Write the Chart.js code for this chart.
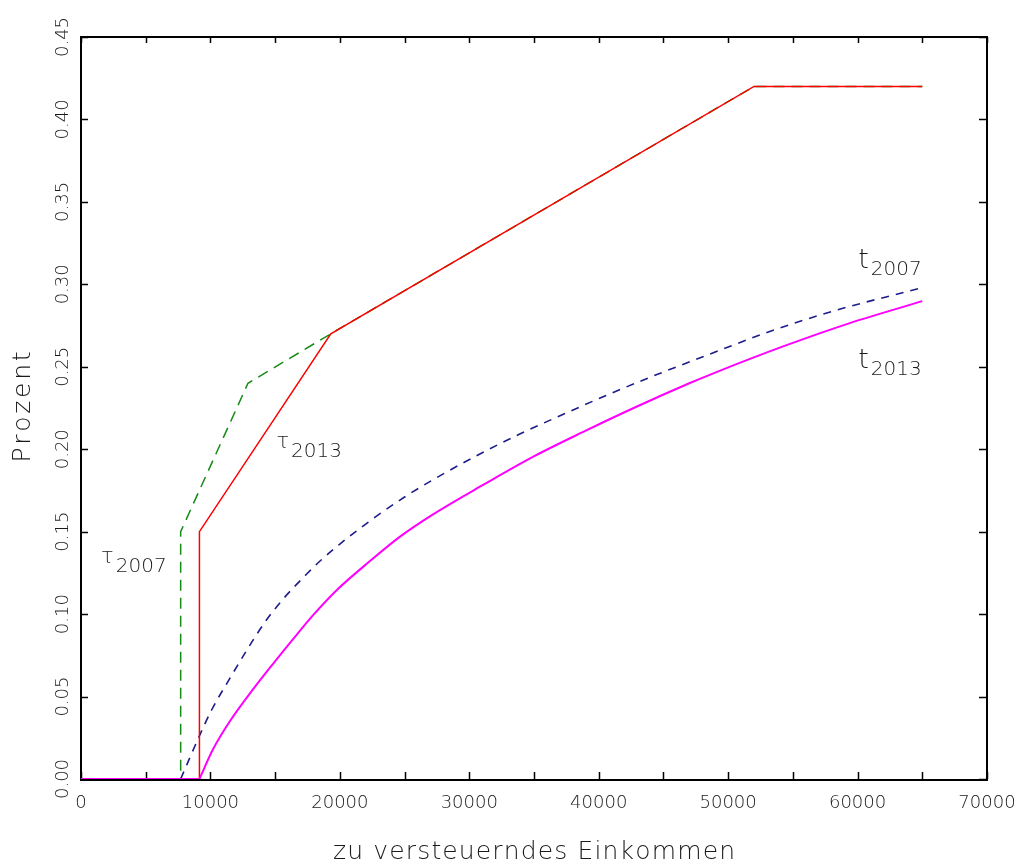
<!DOCTYPE html>
<html>
<head>
<meta charset="utf-8">
<script src="https://cdn.jsdelivr.net/npm/chart.js@4.4.0/dist/chart.umd.min.js"></script>
<style>
  html, body { margin: 0; padding: 0; background: #fff; }
  #wrap { width: 1017px; height: 862px; }
</style>
</head>
<body>
<div id="wrap"><canvas id="chart" width="1017" height="862"></canvas></div>
<script>
// Grenzsteuersatz (tau) und Durchschnittssteuersatz (t)
const tau2013X = [0, 9150, 9150, 19300, 52000, 65000];
const tau2013Y = [0, 0, 0.15, 0.27, 0.42, 0.42];

const tau2007X = [0, 7700, 7700, 12900, 19300, 52000, 65000];
const tau2007Y = [0, 0, 0.15, 0.24, 0.27, 0.42, 0.42];

// steuerfreier Bereich (t = 0)
const freeX2007 = [0, 7700];
const freeX2013 = [0, 9150];
const freeY = [0, 0];

const t2007X = [7700, 9140, 10100, 11500, 12800, 14200, 15600, 17400, 18300, 20000, 22500,
                25000, 27200, 30600, 33900, 37500, 40900, 44500, 48100, 53000, 58000, 65000];
const t2007Y = [0, 0.026, 0.042, 0.061, 0.078, 0.095, 0.109, 0.124, 0.131, 0.1425, 0.1575,
                0.171, 0.1815, 0.1962, 0.2092, 0.222, 0.2337, 0.2453, 0.2562, 0.2708, 0.2835, 0.298];

const t2013X = [9150, 10200, 11500, 13300, 14900, 16400, 17950, 19750, 22300, 24650, 27200,
                31100, 34950, 38800, 42700, 47000, 49100, 54300, 59400, 65000];
const t2013Y = [0, 0.018, 0.035, 0.0545, 0.0705, 0.085, 0.0995, 0.1145, 0.132, 0.147, 0.1605,
                0.1785, 0.1955, 0.2105, 0.225, 0.24, 0.2468, 0.2625, 0.2765, 0.2898];

const xTicks = [0, 10000, 20000, 30000, 40000, 50000, 60000, 70000];
const yTicks = [0, 0.05, 0.10, 0.15, 0.20, 0.25, 0.30, 0.35, 0.40, 0.45];

// Beschriftungen der Kurven: Zeichen, Index, Position in Datenkoordinaten
const curveLabels = [
  { main: '\u03c4', sub: '2007', x: 1550, y: 0.131 },
  { main: '\u03c4', sub: '2013', x: 15100, y: 0.2007 },
  { main: 't', sub: '2007', x: 60050, y: 0.31 },
  { main: 't', sub: '2013', x: 60050, y: 0.2492 }
];

const FONT = '"DejaVu Sans", "Liberation Sans", sans-serif';

function zip(xs, ys) {
  return xs.map((x, i) => ({ x: x, y: ys[i] }));
}

function spacedText(ctx, text, cx, cy, width) {
  // Text mit gleichmaessigem Buchstabenabstand zentriert zeichnen
  const chars = text.split('');
  const raw = chars.reduce((s, c) => s + ctx.measureText(c).width, 0);
  const gap = (width - raw) / (chars.length - 1);
  let x = cx - width / 2;
  chars.forEach(c => {
    ctx.fillText(c, x, cy);
    x += ctx.measureText(c).width + gap;
  });
}

const framePlugin = {
  id: 'frame',
  beforeDatasetsDraw(chart) {
    const ctx = chart.ctx;
    const a = chart.chartArea;
    const xs = chart.scales.x;
    const ys = chart.scales.y;
    ctx.save();
    ctx.strokeStyle = '#000';
    ctx.lineWidth = 2;
    ctx.strokeRect(a.left, a.top, a.right - a.left, a.bottom - a.top + 1);

    ctx.lineWidth = 1.5;
    ctx.beginPath();
    for (let v = 0; v <= 70000; v += 5000) {
      const px = Math.round(xs.getPixelForValue(v)) + 0.5;
      ctx.moveTo(px, a.bottom); ctx.lineTo(px, a.bottom - 7);
      ctx.moveTo(px, a.top); ctx.lineTo(px, a.top + 6);
    }
    yTicks.forEach(v => {
      const py = Math.round(ys.getPixelForValue(v)) + 0.5;
      ctx.moveTo(a.left, py); ctx.lineTo(a.left + 7, py);
      ctx.moveTo(a.right, py); ctx.lineTo(a.right - 8, py);
    });
    ctx.stroke();
    ctx.restore();
  },
  afterDraw(chart) {
    const ctx = chart.ctx;
    const a = chart.chartArea;
    const xs = chart.scales.x;
    const ys = chart.scales.y;
    ctx.save();
    ctx.fillStyle = '#1a1a1a';
    ctx.font = '200 18px ' + FONT;
    ctx.textAlign = 'center';
    ctx.textBaseline = 'middle';
    xTicks.forEach(v => {
      ctx.fillText(String(v), xs.getPixelForValue(v), a.bottom + 24);
    });
    yTicks.forEach(v => {
      ctx.save();
      ctx.translate(a.left - 18, ys.getPixelForValue(v));
      ctx.rotate(-Math.PI / 2);
      ctx.fillText(v.toFixed(2), 0, 0);
      ctx.restore();
    });

    // Achsentitel
    ctx.font = '200 25px ' + FONT;
    ctx.textAlign = 'left';
    ctx.textBaseline = 'alphabetic';
    spacedText(ctx, 'zu versteuerndes Einkommen', (a.left + a.right) / 2, 859, 402);
    ctx.save();
    ctx.translate(30, 407);
    ctx.rotate(-Math.PI / 2);
    spacedText(ctx, 'Prozent', 0, 0, 111);
    ctx.restore();

    // Kurvenbeschriftungen
    curveLabels.forEach(l => {
      const px = xs.getPixelForValue(l.x);
      const py = ys.getPixelForValue(l.y);
      ctx.font = (l.main === 't' ? '200 27px ' : '200 21px ') + FONT;
      ctx.fillText(l.main, px, py);
      const w = ctx.measureText(l.main).width;
      ctx.font = '200 20px ' + FONT;
      ctx.fillText(l.sub, px + w + 2, py + (l.main === 't' ? 7 : 9));
    });
    ctx.restore();
  }
};

new Chart(document.getElementById('chart'), {
  type: 'scatter',
  data: {
    datasets: [
      { label: 't2013 frei', data: zip(freeX2013, freeY), borderColor: '#ff00ff', borderWidth: 2 },
      { label: 't2013', data: zip(t2013X, t2013Y), borderColor: '#ff00ff', borderWidth: 2, cubicInterpolationMode: 'monotone' },
      { label: 'tau2013', data: zip(tau2013X, tau2013Y), borderColor: '#ff0000', borderWidth: 1.5 },
      { label: 't2007', data: zip(t2007X, t2007Y), borderColor: '#1c1c8a', borderWidth: 1.6, borderDash: [8, 7], cubicInterpolationMode: 'monotone' },
      { label: 't2007 frei', data: zip(freeX2007, freeY), borderColor: '#1c1c8a', borderWidth: 1.6 },
      { label: 'tau2007', data: zip(tau2007X, tau2007Y), borderColor: '#158a15', borderWidth: 1.5, borderDash: [11, 7] }
    ]
  },
  options: {
    responsive: false,
    animation: false,
    showLine: true,
    layout: { padding: { left: 81, right: 30, top: 37, bottom: 83 } },
    elements: {
      point: { radius: 0, hoverRadius: 0 },
      line: { tension: 0, fill: false }
    },
    plugins: { legend: { display: false }, tooltip: { enabled: false } },
    scales: {
      x: { type: 'linear', min: 0, max: 70000, display: false },
      y: { type: 'linear', min: 0, max: 0.45, display: false }
    }
  },
  plugins: [framePlugin]
});
</script>
</body>
</html>
